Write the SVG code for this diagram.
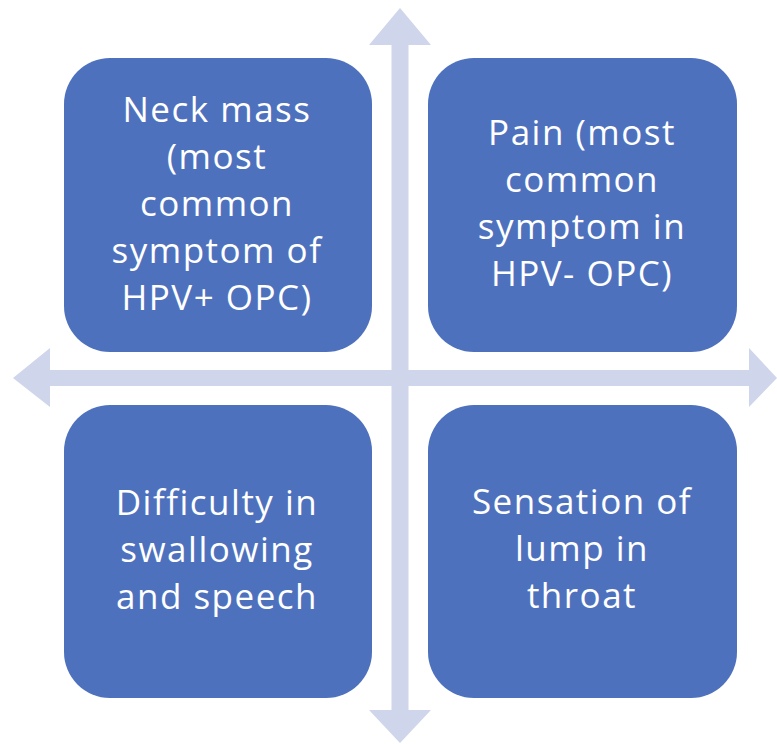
<svg xmlns="http://www.w3.org/2000/svg" width="777" height="744" viewBox="0 0 777 744">
<style>
.box{fill:#4E71BE;}
.arrow{fill:#CFD5EA;}
.t{font-family:"Open Sans","Noto Sans",sans-serif;font-size:35px;fill:#FFFFFF;text-anchor:middle;letter-spacing:1.5px;}
</style>
<rect width="777" height="744" fill="#FFFFFF"/>
<g id="connectors">
<polygon class="arrow" points="400,8 431,45 408.5,45 408.5,710 431,710 400,743 369,710 391.5,710 391.5,45 369,45"/>
<polygon class="arrow" points="13,378 50,348 50,370 749,370 749,348 777,378 749,407 749,386 50,386 50,407"/>
</g>
<g id="node1">
<rect class="box" x="64" y="58" width="308" height="294" rx="46"/>
<text class="t" x="217" y="122">Neck mass</text>
<text class="t" x="217" y="169">(most</text>
<text class="t" x="217" y="216">common</text>
<text class="t" x="217" y="263">symptom of</text>
<text class="t" x="217" y="310">HPV+ OPC)</text>
</g>
<g id="node2">
<rect class="box" x="428" y="58" width="309" height="294" rx="46"/>
<text class="t" x="582" y="145">Pain (most</text>
<text class="t" x="582" y="192">common</text>
<text class="t" x="582" y="239">symptom in</text>
<text class="t" x="582" y="286">HPV- OPC)</text>
</g>
<g id="node3">
<rect class="box" x="64" y="405" width="308" height="293" rx="46"/>
<text class="t" x="217" y="515">Difficulty in</text>
<text class="t" x="217" y="562">swallowing</text>
<text class="t" x="217" y="609">and speech</text>
</g>
<g id="node4">
<rect class="box" x="428" y="405" width="309" height="293" rx="46"/>
<text class="t" x="582" y="514">Sensation of</text>
<text class="t" x="582" y="561">lump in</text>
<text class="t" x="582" y="608">throat</text>
</g>
</svg>
